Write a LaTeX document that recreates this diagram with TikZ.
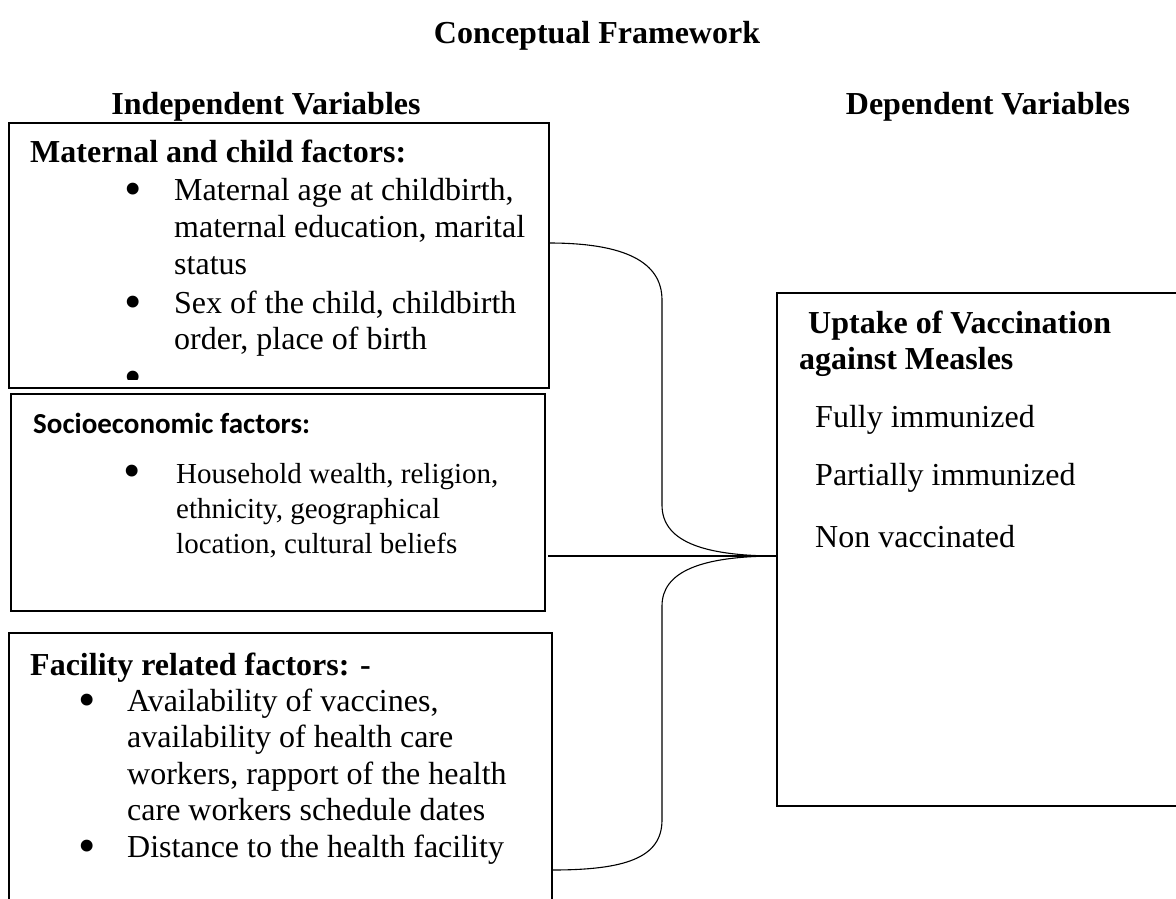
\documentclass[tikz,border=0pt]{standalone}
\usepackage{fontspec}
\setmainfont{Liberation Serif}
\newfontfamily\calibri{Carlito}
\newcommand{\bigbul}{\scalebox{1.55}{•}}
\begin{document}
\begin{tikzpicture}[x=1pt,y=-1pt,
  frame/.style={draw, line width=1.6pt, inner sep=0pt, outer sep=0pt},
  txt/.style={anchor=base west, inner sep=0pt, font=\fontsize{32}{38}\selectfont},
  bul/.style={anchor=base west, inner sep=0pt, font=\fontsize{32}{32}\selectfont},
  btxt/.style={anchor=base west, inner sep=0pt, font=\fontsize{32}{38}\selectfont\bfseries},
  ctxt/.style={anchor=base, inner sep=0pt, font=\fontsize{32}{38}\selectfont\bfseries},
  stxt/.style={anchor=base west, inner sep=0pt, font=\fontsize{29}{34}\selectfont},
  shead/.style={anchor=base west, inner sep=0pt, font=\fontsize{29}{34}\selectfont\calibri\bfseries},
  brace/.style={draw, line width=1.1pt}]
\useasboundingbox (0,0) rectangle (1176,898);
\clip (0,0) rectangle (1176,898);

% headings
\node[ctxt] (title) at (597,43) {Conceptual Framework};
\node[ctxt] (indep) at (266,114) {Independent Variables};
\node[ctxt] (dep) at (988,114) {Dependent Variables};

% boxes
\node[frame, minimum width=540, minimum height=265] (b1) at (279,255.5) {};
\node[frame, minimum width=534, minimum height=217] (b2) at (278,502.5) {};
\node[frame, minimum width=543, minimum height=287] (b3) at (280.5,776.5) {};
\node[frame, minimum width=423, minimum height=513] (out) at (988.5,549.5) {};

% box 1 text
\node[btxt] (h1) at (30,162) {Maternal and child factors:};
\node[bul] (d1a) at (124,205) {\bigbul};
\node[txt] (t1a) at (174,200) {Maternal age at childbirth,};
\node[txt] (t1b) at (174,237) {maternal education, marital};
\node[txt] (t1c) at (174,274) {status};
\node[bul] (d1b) at (124,318) {\bigbul};
\node[txt] (t1d) at (174,313) {Sex of the child, childbirth};
\node[txt] (t1e) at (174,349) {order, place of birth};
\begin{scope}
\clip (9,123) rectangle (549,379);
\node[bul] (d1c) at (124,393.5) {\bigbul};
\end{scope}

% box 2 text
\node[shead] (h2) at (33,433) {Socioeconomic factors:};
\node[bul] (d2a) at (123,487) {\bigbul};
\node[stxt] (t2a) at (176,483) {Household wealth, religion,};
\node[stxt] (t2b) at (176,518) {ethnicity, geographical};
\node[stxt] (t2c) at (176,553) {location, cultural beliefs};

% box 3 text
\node[btxt] (h3) at (30,675) {Facility related factors: -};
\node[bul] (d3a) at (78,716) {\bigbul};
\node[txt] (t3a) at (127,711) {Availability of vaccines,};
\node[txt] (t3b) at (127,747) {availability of health care};
\node[txt] (t3c) at (127,784) {workers, rapport of the health};
\node[txt] (t3d) at (127,820) {care workers schedule dates};
\node[bul] (d3b) at (78,862) {\bigbul};
\node[txt] (t3e) at (127,857) {Distance to the health facility};

% outcome box text
\node[btxt] (ho1) at (808,333) {Uptake of Vaccination};
\node[btxt] (ho2) at (799,369) {against Measles};
\node[txt] (o1) at (815,427) {Fully immunized};
\node[txt] (o2) at (815,485) {Partially immunized};
\node[txt] (o3) at (815,547) {Non vaccinated};

% brace connector
\coordinate (s1) at (b1.east |- 0,243);
\coordinate (s3) at (b3.east |- 0,870);
\coordinate (s2) at (b2.east |- 0,556);
\coordinate (tip) at (out.west |- 0,556);
\draw[brace] (s1) .. controls (625,243) and (662,262) .. (662,300)
  -- (662,505) .. controls (662,540) and (700,556) .. (tip)
  .. controls (700,556) and (662,572) .. (662,606)
  -- (662,820) .. controls (662,858) and (625,870) .. (s3);
\draw[brace] ([xshift=3pt]s2) -- (tip);
\end{tikzpicture}
\end{document}
